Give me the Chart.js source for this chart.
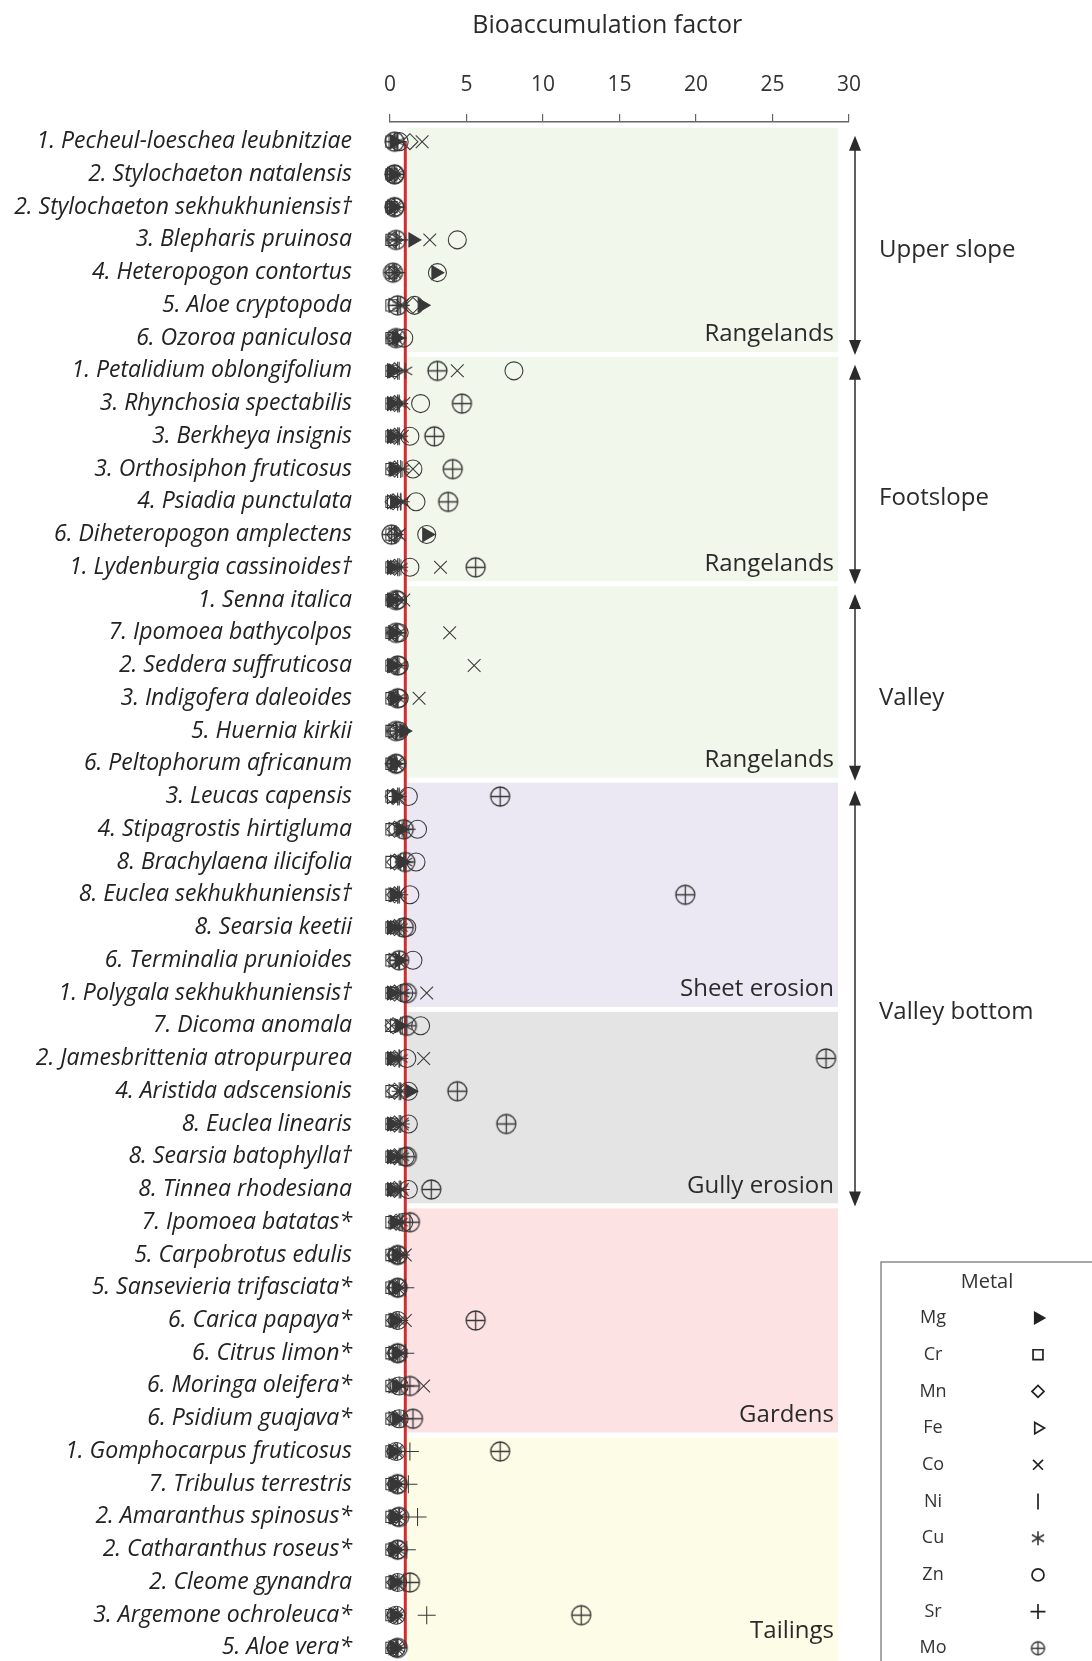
<!DOCTYPE html>
<html>
<head>
<meta charset="utf-8">
<title>Bioaccumulation factor</title>
<script src="https://cdn.jsdelivr.net/npm/chart.js@4.4.1/dist/chart.umd.min.js"></script>
<style>
  html, body { margin: 0; padding: 0; background: #ffffff; }
  canvas { display: block; }
</style>
</head>
<body>
<canvas id="baf" width="1092" height="1661"></canvas>
<script>
// Plant species, top to bottom
const species = [
  '1. Pecheul-loeschea leubnitziae', '2. Stylochaeton natalensis', '2. Stylochaeton sekhukhuniensis\u2020',
  '3. Blepharis pruinosa', '4. Heteropogon contortus', '5. Aloe cryptopoda', '6. Ozoroa paniculosa',
  '1. Petalidium oblongifolium', '3. Rhynchosia spectabilis', '3. Berkheya insignis', '3. Orthosiphon fruticosus',
  '4. Psiadia punctulata', '6. Diheteropogon amplectens', '1. Lydenburgia cassinoides\u2020',
  '1. Senna italica', '7. Ipomoea bathycolpos', '2. Seddera suffruticosa', '3. Indigofera daleoides',
  '5. Huernia kirkii', '6. Peltophorum africanum',
  '3. Leucas capensis', '4. Stipagrostis hirtigluma', '8. Brachylaena ilicifolia', '8. Euclea sekhukhuniensis\u2020',
  '8. Searsia keetii', '6. Terminalia prunioides', '1. Polygala sekhukhuniensis\u2020',
  '7. Dicoma anomala', '2. Jamesbrittenia atropurpurea', '4. Aristida adscensionis', '8. Euclea linearis',
  '8. Searsia batophylla\u2020', '8. Tinnea rhodesiana',
  '7. Ipomoea batatas*', '5. Carpobrotus edulis', '5. Sansevieria trifasciata*', '6. Carica papaya*',
  '6. Citrus limon*', '6. Moringa oleifera*', '6. Psidium guajava*',
  '1. Gomphocarpus fruticosus', '7. Tribulus terrestris', '2. Amaranthus spinosus*', '2. Catharanthus roseus*',
  '2. Cleome gynandra', '3. Argemone ochroleuca*', '5. Aloe vera*'
];

// Bioaccumulation factors per metal, one value per species
const bafMg = [0.3,0.2,0.2,1.5,3.0,2.1,0.4, 0.1,0.1,0.1,0.2,0.3,2.4,0.1, 0.1,0.2,0.1,0.3,0.9,0.3,
               0.4,0.7,0.8,0.3,0.1,0.6,0.1, 0.6,0.1,1.3,0.1,0.1,0.1, 0.3,0.4,0.4,0.3,0.4,0.4,0.4,
               0.2,0.3,0.3,0.3,0.3,0.3,0.3];
const bafCr = [0.1,0.1,0.1,0.1,0.1,0.1,0.1, 0.1,0.1,0.1,0.1,0.1,0.1,0.1, 0.1,0.1,0.1,0.1,0.1,0.1,
               0.1,0.1,0.1,0.1,0.1,0.1,0.1, 0.1,0.1,0.1,0.1,0.1,0.1, 0.1,0.1,0.1,0.1,0.1,0.1,0.1,
               0.1,0.1,0.1,0.1,0.1,0.1,0.1];
const bafMn = [1.3,0.2,0.2,0.3,0.2,1.5,0.3, 0.3,0.3,0.3,0.3,0.2,0.3,0.3, 0.3,0.3,0.3,0.3,0.3,0.2,
               0.2,0.3,0.3,0.3,0.3,0.3,0.3, 0.2,0.3,0.3,0.3,0.3,0.3, 0.4,0.3,0.3,0.3,0.3,0.3,0.3,
               0.3,0.3,0.3,0.3,0.3,0.3,0.3];
const bafFe = [0.2,0.1,0.1,0.2,0.2,0.2,0.2, 0.2,0.3,0.3,0.3,0.1,0.2,0.3, 0.2,0.2,0.2,0.2,0.2,0.2,
               0.1,0.2,0.3,0.2,0.3,0.2,0.3, 0.3,0.3,0.2,0.3,0.3,0.3, 0.2,0.2,0.2,0.2,0.2,0.2,0.2,
               0.2,0.2,0.2,0.2,0.2,0.2,0.2];
const bafCo = [2.1,0.3,0.3,2.6,0.3,0.8,0.4, 4.4,0.9,0.8,1.5,0.9,0.6,3.3, 0.9,3.9,5.5,1.9,0.5,0.4,
               0.5,0.5,0.6,0.5,0.6,0.5,2.4, 0.1,2.2,0.5,0.8,0.7,0.8, 0.5,1.0,0.5,1.0,0.6,2.2,0.6,
               0.4,0.4,0.4,0.4,0.4,0.4,0.4];
const bafNi = [0.4,0.3,0.3,0.4,0.3,0.5,0.4, 0.5,0.5,0.5,0.5,0.5,0.4,0.5, 0.4,0.4,0.4,0.4,0.4,0.3,
               0.6,0.6,0.7,0.5,0.6,0.6,0.7, 0.8,0.6,0.6,0.6,0.6,0.6, 0.6,0.6,0.6,0.4,0.6,0.6,0.6,
               0.5,0.5,0.6,0.5,0.5,0.5,0.4];
const bafCu = [0.5,0.4,0.3,0.3,0.3,0.6,0.3, 1.0,0.6,0.6,0.8,0.7,0.4,0.7, 0.5,0.5,0.6,0.5,0.5,0.4,
               0.6,0.8,1.0,0.6,0.7,0.6,0.8, 1.0,0.7,0.7,0.8,0.8,0.7, 0.7,0.6,0.6,0.5,0.7,0.7,0.7,
               0.4,0.5,0.6,0.5,0.6,0.5,0.5];
const bafZn = [0.6,0.3,0.3,4.4,3.1,1.6,0.9, 8.1,2.0,1.3,1.5,1.7,2.4,1.3, 0.5,0.6,0.6,0.6,0.6,0.4,
               1.2,1.8,1.7,1.3,1.1,1.5,0.9, 2.0,1.1,1.2,1.2,1.0,1.2, 0.9,0.5,0.5,0.5,0.5,0.6,0.6,
               0.4,0.5,0.5,0.5,0.5,0.4,0.4];
const bafSr = [0.5,0.3,0.3,0.6,0.4,0.7,0.5, 0.6,0.6,0.6,0.7,0.7,0.3,0.6, 0.5,0.5,0.5,0.5,0.4,0.3,
               0.5,1.1,0.9,0.6,0.6,0.6,0.7, 0.7,0.6,0.7,0.7,0.7,0.7, 0.8,0.7,1.0,0.6,1.0,1.0,0.9,
               1.3,1.2,1.8,1.1,0.9,2.4,0.4];
const bafMo = [0.3,0.3,0.3,0.4,0.2,0.5,0.4, 3.1,4.7,2.9,4.1,3.8,0.1,5.6, 0.4,0.4,0.5,0.5,0.4,0.4,
               7.2,0.9,1.0,19.3,0.9,0.6,1.1, 1.1,28.5,4.4,7.6,1.1,2.7, 1.3,0.5,0.5,5.6,0.5,1.3,1.5,
               7.2,0.5,0.6,0.5,1.3,12.5,0.5];

const metals = ['Mg', 'Cr', 'Mn', 'Fe', 'Co', 'Ni', 'Cu', 'Zn', 'Sr', 'Mo'];
const metalValues = [bafMg, bafCr, bafMn, bafFe, bafCo, bafNi, bafCu, bafZn, bafSr, bafMo];
const xTicks = [0, 5, 10, 15, 20, 25, 30];
const referenceBAF = 1;

// Land-use zones (row ranges) and slope positions
const zones = [
  { label: 'Rangelands',    from: 0,  to: 6,  color: '#f1f7eb' },
  { label: 'Rangelands',    from: 7,  to: 13, color: '#f1f7eb' },
  { label: 'Rangelands',    from: 14, to: 19, color: '#f1f7eb' },
  { label: 'Sheet erosion', from: 20, to: 26, color: '#ece8f3' },
  { label: 'Gully erosion', from: 27, to: 32, color: '#e4e4e4' },
  { label: 'Gardens',       from: 33, to: 39, color: '#fde2e4' },
  { label: 'Tailings',      from: 40, to: 46, color: '#fdfde7' }
];
const slopes = [
  { label: 'Upper slope',   from: 0,  to: 6,  labelRow: 3.3 },
  { label: 'Footslope',     from: 7,  to: 13, labelRow: 10.9 },
  { label: 'Valley',        from: 14, to: 19, labelRow: 17.0 },
  { label: 'Valley bottom', from: 20, to: 32, labelRow: 26.6 }
];

const INK = '#383838';
const FONT = '"Open Sans", Lato, sans-serif';

// Circle with a cross, used for Mo
function makeCrossedCircle(r, lw) {
  const size = Math.ceil(2 * r + lw + 2);
  const c = document.createElement('canvas');
  c.width = size; c.height = size;
  const g = c.getContext('2d');
  const m = size / 2;
  g.strokeStyle = INK;
  g.lineWidth = lw;
  g.beginPath(); g.arc(m, m, r, 0, Math.PI * 2); g.stroke();
  g.beginPath();
  g.moveTo(m - r, m); g.lineTo(m + r, m);
  g.moveTo(m, m - r); g.lineTo(m, m + r);
  g.stroke();
  return c;
}
// Six-armed asterisk, used for Cu
function makeAsterisk(r, lw) {
  const size = Math.ceil(2 * r + lw + 2);
  const c = document.createElement('canvas');
  c.width = size; c.height = size;
  const g = c.getContext('2d');
  const m = size / 2;
  g.strokeStyle = INK;
  g.lineWidth = lw;
  g.beginPath();
  for (let a = 0; a < 3; a++) {
    const t = Math.PI / 2 + a * Math.PI / 3;
    g.moveTo(m - Math.cos(t) * r, m - Math.sin(t) * r);
    g.lineTo(m + Math.cos(t) * r, m + Math.sin(t) * r);
  }
  g.stroke();
  return c;
}
const moMarker = makeCrossedCircle(9.5, 1.3);
const moLegend = makeCrossedCircle(6.5, 1.4);
const cuMarker = makeAsterisk(8, 1.1);
const cuLegend = makeAsterisk(7, 1.6);

const markerStyles = {
  Mg: { pointStyle: 'triangle', rotation: 90, radius: 8, fill: INK },
  Cr: { pointStyle: 'rect', rotation: 0, radius: 8, fill: 'rgba(0,0,0,0)' },
  Mn: { pointStyle: 'rectRot', rotation: 0, radius: 8, fill: 'rgba(0,0,0,0)' },
  Fe: { pointStyle: 'triangle', rotation: 90, radius: 8, fill: 'rgba(0,0,0,0)' },
  Co: { pointStyle: 'crossRot', rotation: 0, radius: 9, fill: 'rgba(0,0,0,0)' },
  Ni: { pointStyle: 'line', rotation: 90, radius: 9, fill: 'rgba(0,0,0,0)' },
  Cu: { pointStyle: cuMarker, rotation: 0, radius: 8, fill: 'rgba(0,0,0,0)' },
  Zn: { pointStyle: 'circle', rotation: 0, radius: 9, fill: 'rgba(0,0,0,0)' },
  Sr: { pointStyle: 'cross', rotation: 0, radius: 9, fill: 'rgba(0,0,0,0)' },
  Mo: { pointStyle: moMarker, rotation: 0, radius: 10, fill: 'rgba(0,0,0,0)' }
};
const legendStyles = {
  Mg: { pointStyle: 'triangle', rotation: 90, radius: 6.5 },
  Cr: { pointStyle: 'rect', rotation: 0, radius: 7 },
  Mn: { pointStyle: 'rectRot', rotation: 0, radius: 6 },
  Fe: { pointStyle: 'triangle', rotation: 90, radius: 6.5 },
  Co: { pointStyle: 'crossRot', rotation: 0, radius: 7 },
  Ni: { pointStyle: 'line', rotation: 90, radius: 8 },
  Cu: { pointStyle: cuLegend, rotation: 0, radius: 7 },
  Zn: { pointStyle: 'circle', rotation: 0, radius: 6 },
  Sr: { pointStyle: 'cross', rotation: 0, radius: 7.5 },
  Mo: { pointStyle: moLegend, rotation: 0, radius: 7 }
};

const datasets = metals.map((m, k) => {
  const st = markerStyles[m];
  return {
    type: 'scatter',
    label: m,
    data: metalValues[k].map((v, i) => ({ x: v, y: i })),
    pointStyle: st.pointStyle,
    rotation: st.rotation,
    pointRadius: st.radius,
    pointBorderWidth: 1.05,
    borderColor: INK,
    backgroundColor: st.fill,
    clip: false,
    order: 10 - k
  };
});
// Reference line at BAF = 1
datasets.push({
  type: 'line',
  label: 'BAF = 1',
  data: [{ x: referenceBAF, y: 0 }, { x: referenceBAF, y: species.length - 1 }],
  borderColor: '#d42b2b',
  borderWidth: 3,
  pointRadius: 0,
  fill: false,
  clip: false,
  order: 100
});

const zoning = {
  id: 'zoning',
  beforeDatasetsDraw(chart) {
    const { ctx, chartArea, scales: { x, y } } = chart;
    const step = Math.abs(y.getPixelForValue(1) - y.getPixelForValue(0));
    const left = x.getPixelForValue(referenceBAF) + 2;
    const right = chartArea.right - 11;
    ctx.save();
    zones.forEach(z => {
      const top = y.getPixelForValue(z.from) - step / 2 + 2.5;
      const bot = y.getPixelForValue(z.to) + step / 2 - 2.5;
      ctx.fillStyle = z.color;
      ctx.fillRect(left, top, right - left, bot - top);
    });
    ctx.restore();
  },
  afterDatasetsDraw(chart) {
    const { ctx, chartArea, scales: { x, y } } = chart;
    const step = Math.abs(y.getPixelForValue(1) - y.getPixelForValue(0));
    ctx.save();
    // axis title
    ctx.font = '25px ' + FONT;
    ctx.fillStyle = '#2a2a2a';
    ctx.textAlign = 'center';
    ctx.textBaseline = 'middle';
    ctx.fillText('Bioaccumulation factor', x.getPixelForValue(14.2), 26);
    // zone names
    ctx.font = '24px ' + FONT;
    ctx.textAlign = 'right';
    zones.forEach(z => {
      const bot = Math.min(y.getPixelForValue(z.to) + step / 2 - 2, chartArea.bottom - 12);
      ctx.fillText(z.label, chartArea.right - 15, bot - 18);
    });
    // slope position arrows
    const ax = chartArea.right + 6;
    ctx.strokeStyle = '#2a2a2a';
    ctx.fillStyle = '#2a2a2a';
    ctx.lineWidth = 1.5;
    slopes.forEach(s => {
      const top = y.getPixelForValue(s.from) - 6;
      const bot = y.getPixelForValue(s.to) + 17;
      ctx.beginPath(); ctx.moveTo(ax, top + 8); ctx.lineTo(ax, bot - 8); ctx.stroke();
      ctx.beginPath(); ctx.moveTo(ax, top); ctx.lineTo(ax - 6, top + 15); ctx.lineTo(ax + 6, top + 15); ctx.closePath(); ctx.fill();
      ctx.beginPath(); ctx.moveTo(ax, bot); ctx.lineTo(ax - 6, bot - 15); ctx.lineTo(ax + 6, bot - 15); ctx.closePath(); ctx.fill();
    });
    ctx.fillStyle = '#2a2a2a';
    ctx.textAlign = 'left';
    slopes.forEach(s => {
      ctx.fillText(s.label, ax + 24, y.getPixelForValue(s.labelRow));
    });

    // metal legend
    const lx = 881, ly = 1262;
    ctx.strokeStyle = '#8a8a8a';
    ctx.lineWidth = 1.5;
    ctx.strokeRect(lx, ly, 240, 420);
    ctx.fillStyle = '#333333';
    ctx.textAlign = 'center';
    ctx.font = '20px ' + FONT;
    ctx.fillText('Metal', 987, 1282);
    ctx.font = '18px ' + FONT;
    metals.forEach((m, k) => {
      const yy = 1318 + k * 36.7;
      ctx.fillStyle = '#333333';
      ctx.fillText(m, 933, yy);
      const st = legendStyles[m];
      ctx.strokeStyle = '#222222';
      ctx.lineWidth = 1.7;
      ctx.fillStyle = m === 'Mg' ? '#222222' : 'rgba(0,0,0,0)';
      Chart.helpers.drawPoint(ctx, {
        pointStyle: st.pointStyle, rotation: st.rotation, radius: st.radius, borderWidth: 1.7
      }, 1038, yy);
    });
    ctx.restore();
  }
};

new Chart(document.getElementById('baf'), {
  data: { datasets },
  plugins: [zoning],
  options: {
    responsive: false,
    devicePixelRatio: 1,
    animation: false,
    events: [],
    layout: { autoPadding: false, padding: { left: 0, right: 243, top: 0, bottom: 0 } },
    plugins: { legend: { display: false }, tooltip: { enabled: false } },
    scales: {
      x: {
        type: 'linear',
        position: 'top',
        min: xTicks[0],
        max: xTicks[xTicks.length - 1],
        afterBuildTicks: (axis) => { axis.ticks = xTicks.map(v => ({ value: v })); },
        afterFit: (axis) => { axis.height = 122; axis.paddingLeft = 0; axis.paddingRight = 0; },
        ticks: { color: '#333333', padding: 16, font: { family: FONT, size: 21 } },
        grid: { display: true, drawOnChartArea: false, drawTicks: true, tickLength: 8, color: '#666666', lineWidth: 1.2 },
        border: { display: true, color: '#666666', width: 1.5 },
        title: { display: false }
      },
      y: {
        type: 'linear',
        reverse: true,
        min: -0.6,
        max: species.length - 0.6,
        afterBuildTicks: (axis) => { axis.ticks = species.map((_, i) => ({ value: i })); },
        afterFit: (axis) => { axis.width = 390; axis.paddingTop = 0; axis.paddingBottom = 0; },
        ticks: {
          autoSkip: false,
          padding: 38,
          color: '#222222',
          font: { family: FONT, size: 23, style: 'italic' },
          callback: (v) => species[v]
        },
        grid: { display: false, drawTicks: false },
        border: { display: false }
      }
    }
  }
});
</script>
</body>
</html>
